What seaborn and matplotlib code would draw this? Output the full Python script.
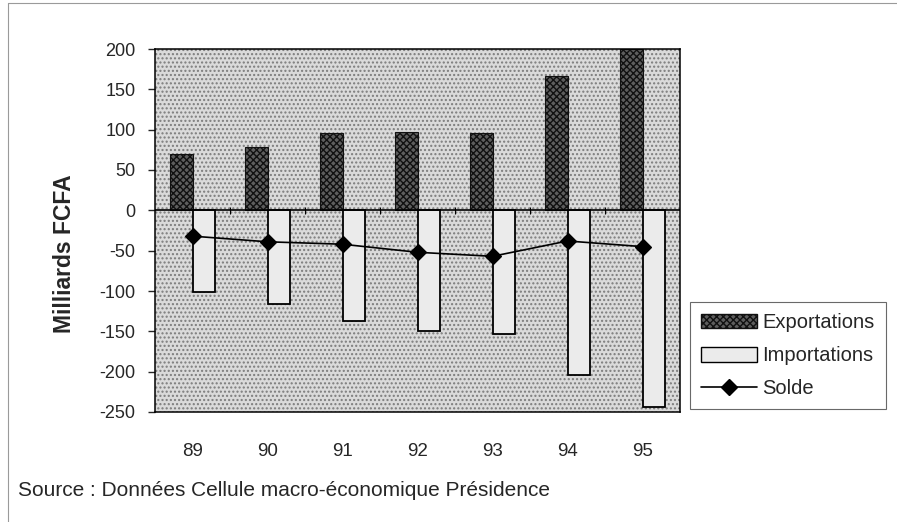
import matplotlib
matplotlib.use("Agg")
import matplotlib.pyplot as plt
import seaborn as sns
import pandas as pd
from matplotlib.patches import Patch, Rectangle
from matplotlib.lines import Line2D

years = ["89", "90", "91", "92", "93", "94", "95"]
exportations = [70, 78, 96, 97, 96, 167, 200]
importations = [-101, -116, -137, -149, -153, -204, -244]
solde = [-32, -39, -42, -52, -57, -38, -45]
yticks = [200, 150, 100, 50, 0, -50, -100, -150, -200, -250]

sns.set_theme(style="white")
plt.rcParams["font.family"] = ["Liberation Sans", "DejaVu Sans"]

df = pd.DataFrame({
    "Année": years * 2,
    "Valeur": exportations + importations,
    "Série": ["Exportations"] * len(years) + ["Importations"] * len(years),
})

fig = plt.figure(figsize=(8.97, 5.22), dpi=100)
ax = fig.add_axes([155 / 897, 1 - 412 / 522, (680 - 155) / 897, (412 - 49) / 522])
ax.set_facecolor("#c8c8c8")
bg = Rectangle((0, 0), 1, 1, transform=ax.transAxes, facecolor="#dadada",
               edgecolor="#7c7c7c", hatch="....", linewidth=0, zorder=0)
ax.add_patch(bg)

sns.barplot(data=df, x="Année", y="Valeur", hue="Série",
            hue_order=["Exportations", "Importations"], order=years,
            width=0.6, ax=ax, legend=False, saturation=1, zorder=2)

EXP_FC, EXP_EC = "#5e5e5e", "#111111"
IMP_FC = "#ebebeb"
exp_cont, imp_cont = ax.containers[0], ax.containers[1]
for p in exp_cont:
    p.set_facecolor(EXP_FC)
    p.set_edgecolor(EXP_EC)
    p.set_hatch("xxxxx")
    p.set_linewidth(0.8)
for p in imp_cont:
    p.set_facecolor(IMP_FC)
    p.set_edgecolor("black")
    p.set_linewidth(1.3)

sns.pointplot(x=years, y=solde, order=years, color="black", markers="D",
              markersize=8, linewidth=1.2, ax=ax, zorder=4)

ax.axhline(0, color="black", linewidth=1.2, zorder=3)
for i in range(len(years) - 1):
    ax.vlines(i + 0.5, -4, 4, color="black", linewidth=0.8, zorder=3)

ax.set_ylim(-250, 200)
ax.set_xlim(-0.5, len(years) - 0.5)
ax.set_yticks(yticks)
ax.set_yticklabels([str(v) for v in yticks], fontsize=13)
ax.tick_params(axis="y", length=5, width=1, pad=9, direction="out", left=True)
ax.tick_params(axis="x", length=0, pad=22, labelsize=13.5)
ax.set_xlabel("")
ax.set_ylabel("Milliards FCFA", fontsize=16.5, fontweight="bold")
ax.yaxis.set_label_coords(-0.151, 0.437)
for s in ax.spines.values():
    s.set_visible(True)
    s.set_color("black")
    s.set_linewidth(1.1)

handles = [
    Patch(facecolor=EXP_FC, edgecolor=EXP_EC, hatch="xxxxx", label="Exportations"),
    Patch(facecolor=IMP_FC, edgecolor="black", label="Importations"),
    Line2D([0], [0], color="black", marker="D", markersize=8, linewidth=1.2, label="Solde"),
]
leg = fig.legend(handles=handles, loc="upper left",
                 bbox_to_anchor=(690 / 897, 1 - 302 / 522), fontsize=14.5,
                 frameon=True, fancybox=False, edgecolor="#444444",
                 handlelength=2.8, handleheight=0.75, handletextpad=0.25,
                 borderpad=0.55, labelspacing=0.7, borderaxespad=0)
leg.get_frame().set_linewidth(0.8)

fig.text(18 / 897, 1 - 491 / 522, "Source : Données Cellule macro-économique Présidence",
         fontsize=15, va="center", ha="left")

fig.add_artist(Line2D([8 / 897, 8 / 897], [0, 1 - 3 / 522], color="#9a9a9a",
                      linewidth=0.8, transform=fig.transFigure))
fig.add_artist(Line2D([8 / 897, 1], [1 - 3 / 522, 1 - 3 / 522], color="#9a9a9a",
                      linewidth=0.8, transform=fig.transFigure))

fig.savefig("out.png", dpi=100)
